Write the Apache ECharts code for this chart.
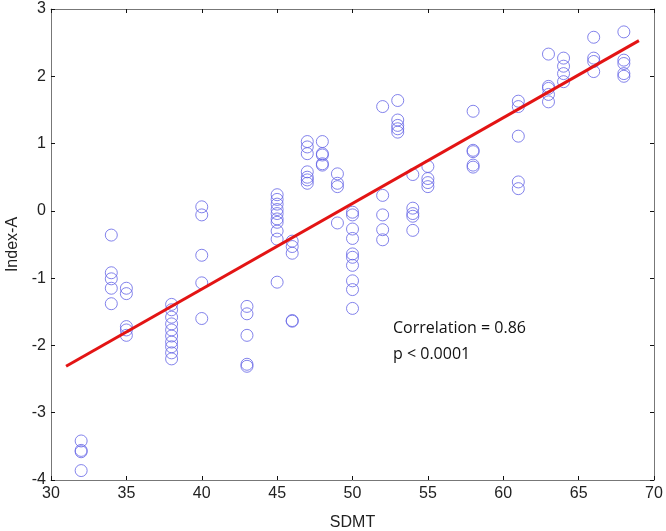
<!DOCTYPE html>
<html>
<head>
<meta charset="utf-8">
<script src="https://cdn.jsdelivr.net/npm/echarts@6/dist/echarts.min.js"></script>
<style>
  html, body { margin: 0; padding: 0; background: #fff; }
  #chart { width: 666px; height: 531px; }
</style>
</head>
<body>
<div id="chart"></div>
<script>
  // SDMT score per subject and the matching Index-A value
  var sdmt = [
    32, 32, 32, 32,
    34, 34, 34, 34, 34,
    35, 35, 35, 35, 35,
    38, 38, 38, 38, 38, 38, 38, 38, 38, 38,
    40, 40, 40, 40, 40,
    43, 43, 43, 43, 43,
    45, 45, 45, 45, 45, 45, 45, 45, 45, 45,
    46, 46, 46, 46, 46,
    47, 47, 47, 47, 47, 47, 47,
    48, 48, 48, 48, 48,
    49, 49, 49, 49,
    50, 50, 50, 50, 50, 50, 50, 50, 50, 50,
    52, 52, 52, 52, 52,
    53, 53, 53, 53, 53,
    54, 54, 54, 54, 54,
    55, 55, 55, 55,
    58, 58, 58, 58, 58,
    61, 61, 61, 61, 61,
    63, 63, 63, 63, 63,
    64, 64, 64, 64,
    66, 66, 66, 66,
    68, 68, 68, 68, 68
  ]
  var indexA = [
    -3.42, -3.56, -3.58, -3.86,
    -0.36, -0.92, -1.01, -1.15, -1.38,
    -1.15, -1.23, -1.72, -1.77, -1.85,
    -1.39, -1.47, -1.58, -1.68, -1.77, -1.86, -1.95, -2.02, -2.11, -2.20,
    0.06, -0.06, -0.66, -1.07, -1.60,
    -1.42, -1.53, -1.85, -2.28, -2.31,
    0.24, 0.17, 0.10, 0.02, -0.04, -0.12, -0.17, -0.30, -0.42, -1.06,
    -0.45, -0.53, -0.63, -1.63, -1.64,
    1.03, 0.95, 0.85, 0.58, 0.50, 0.46, 0.41,
    1.03, 0.85, 0.83, 0.70, 0.68,
    0.55, 0.41, 0.36, -0.18,
    -0.02, -0.06, -0.27, -0.41, -0.64, -0.69, -0.81, -1.04, -1.17, -1.45,
    1.55, 0.23, -0.06, -0.28, -0.43,
    1.64, 1.35, 1.27, 1.22, 1.17,
    0.54, 0.04, -0.04, -0.08, -0.29,
    0.66, 0.48, 0.42, 0.36,
    1.48, 0.90, 0.88, 0.68, 0.65,
    1.63, 1.55, 1.11, 0.43, 0.33,
    2.33, 1.85, 1.82, 1.73, 1.62,
    2.27, 2.15, 2.04, 1.92,
    2.58, 2.27, 2.22, 2.07,
    2.66, 2.24, 2.19, 2.04, 2.00
  ]
  // fitted line end points
  var fitX = [31, 69]
  var fitY = [-2.31, 2.53]

  var points = []
  for (var i = 0; i < sdmt.length; i++) {
    points.push([sdmt[i], indexA[i]])
  }
  var fit = []
  for (var j = 0; j < fitX.length; j++) {
    fit.push([fitX[j], fitY[j]])
  }

  var axisColor = '#777'
  var labelFont = { color: '#222', fontSize: 16, fontFamily: 'Liberation Sans' }

  var chart = echarts.init(document.getElementById('chart'))
  chart.setOption({
    animation: false,
    grid: { left: 51, right: 12, top: 9, bottom: 51, outerBoundsMode: 'none' },
    xAxis: [
      {
        type: 'value', min: 30, max: 70, interval: 5,
        name: 'SDMT', nameLocation: 'middle', nameGap: 35,
        nameTextStyle: { color: '#222', fontSize: 16, fontFamily: 'Liberation Sans' },
        axisLine: { onZero: false, lineStyle: { color: axisColor } },
        axisTick: { inside: true, length: 4, lineStyle: { color: '#111' } },
        axisLabel: Object.assign({ margin: 6 }, labelFont),
        splitLine: { show: false }
      },
      {
        type: 'value', position: 'top', min: 30, max: 70, interval: 5,
        axisLine: { onZero: false, lineStyle: { color: axisColor } },
        axisTick: { inside: true, length: 4, lineStyle: { color: '#111' } },
        axisLabel: { show: false },
        splitLine: { show: false }
      }
    ],
    yAxis: [
      {
        type: 'value', min: -4, max: 3, interval: 1,
        name: 'Index-A', nameLocation: 'middle', nameGap: 30,
        nameTextStyle: { color: '#222', fontSize: 16, fontFamily: 'Liberation Sans' },
        axisLine: { onZero: false, lineStyle: { color: axisColor } },
        axisTick: { inside: true, length: 4, lineStyle: { color: '#111' } },
        axisLabel: Object.assign({ margin: 5 }, labelFont),
        splitLine: { show: false }
      },
      {
        type: 'value', position: 'right', min: -4, max: 3, interval: 1,
        axisLine: { onZero: false, lineStyle: { color: axisColor } },
        axisTick: { inside: true, length: 4, lineStyle: { color: '#111' } },
        axisLabel: { show: false },
        splitLine: { show: false }
      }
    ],
    series: [
      {
        type: 'scatter',
        data: points,
        symbol: 'circle',
        symbolSize: 12,
        itemStyle: { color: 'rgba(0,0,0,0)', borderColor: '#6464e6', borderWidth: 1 },
        z: 2
      },
      {
        type: 'line',
        data: fit,
        symbol: 'none',
        lineStyle: { color: '#e31414', width: 3 },
        z: 3
      }
    ],
    graphic: [
      {
        type: 'text', left: 393, top: 315,
        style: { text: 'Correlation = 0.86\np < 0.0001', fill: '#111', font: '16px "Open Sans"', lineHeight: 26 }
      }
    ]
  })
</script>
</body>
</html>
